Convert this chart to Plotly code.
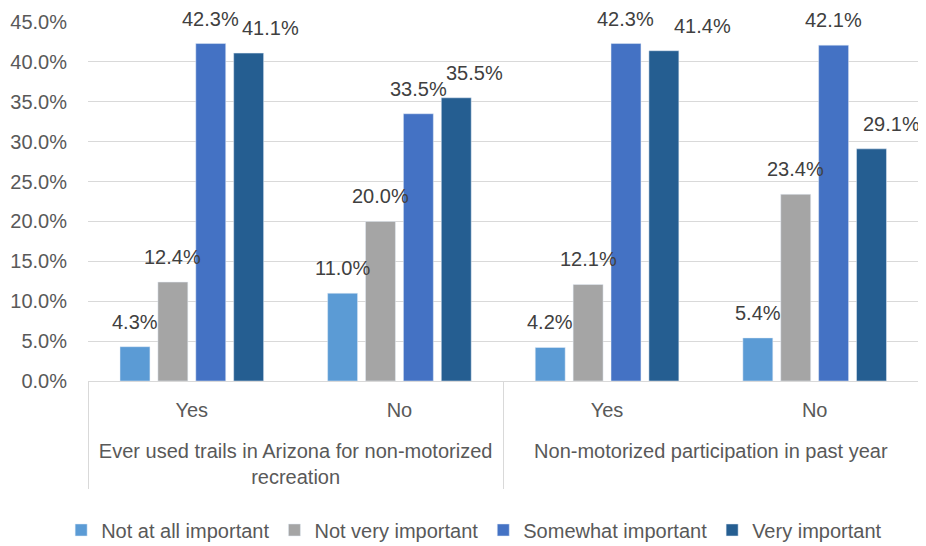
import plotly.graph_objects as go

outer = ["Ever used trails in Arizona for non-motorized<br>recreation",
         "Ever used trails in Arizona for non-motorized<br>recreation",
         "Non-motorized participation in past year",
         "Non-motorized participation in past year"]
inner = ["Yes", "No", "Yes", "No"]

series_names = ["Not at all important", "Not very important", "Somewhat important", "Very important"]
not_at_all = [0.043, 0.110, 0.042, 0.054]
not_very = [0.124, 0.200, 0.121, 0.234]
somewhat = [0.423, 0.335, 0.423, 0.421]
very = [0.411, 0.355, 0.414, 0.291]
colors = ["#5B9BD5", "#A5A5A5", "#4472C4", "#255E91"]

# horizontal nudges (px) of the data labels, as placed in the original chart
label_dx = [[0, 0, 0, 0], [0, 0, 0, 0], [0, 0, 0, 0], [22, 18, 39, 20]]

FONT = "Liberation Sans, Arial, sans-serif"
FS = 20
BARGAP = 0.27
GROUPGAP = 0.21

fig = go.Figure()
all_series = [not_at_all, not_very, somewhat, very]
for name, vals, col in zip(series_names, all_series, colors):
    fig.add_trace(go.Bar(
        x=[outer, [s + "<br><span style='font-size:26px'> </span>" for s in inner]],
        y=vals, name=name, marker_color=col, cliponaxis=False,
    ))

slot = (1 - BARGAP) / len(all_series)
for j, vals in enumerate(all_series):
    for i, v in enumerate(vals):
        fig.add_annotation(
            x=i + (j - (len(all_series) - 1) / 2) * slot, y=v, xref="x", yref="y",
            text=f"{v*100:.1f}%", showarrow=False, yanchor="bottom", xanchor="center",
            yshift=12, xshift=label_dx[j][i],
            font=dict(family=FONT, size=FS, color="#404040"),
        )

fig.update_layout(
    width=918, height=538,
    margin=dict(l=80, r=4, t=14, b=165, autoexpand=False),
    barmode="group", bargap=BARGAP, bargroupgap=GROUPGAP,
    plot_bgcolor="white", paper_bgcolor="white",
    font=dict(family=FONT, size=FS, color="#595959"),
    legend=dict(orientation="h", x=0.463, xanchor="center", y=-0.415, yanchor="middle",
                font=dict(size=FS, color="#595959"), traceorder="normal"),
    showlegend=True,
)
fig.update_yaxes(range=[0, 0.45], dtick=0.05, tickformat=".1%", showgrid=True,
                 gridcolor="#D9D9D9", gridwidth=1, zeroline=False, showline=False,
                 ticks="", ticklabelstandoff=20,
                 tickfont=dict(size=FS, color="#595959"), automargin=False)
fig.update_xaxes(showline=True, linecolor="#D9D9D9", showdividers=True,
                 dividercolor="#D9D9D9", dividerwidth=1, ticks="", tickangle=0,
                 ticklabelstandoff=11,
                 tickfont=dict(size=FS, color="#595959"), automargin=False)
fig.write_html("out.html")
